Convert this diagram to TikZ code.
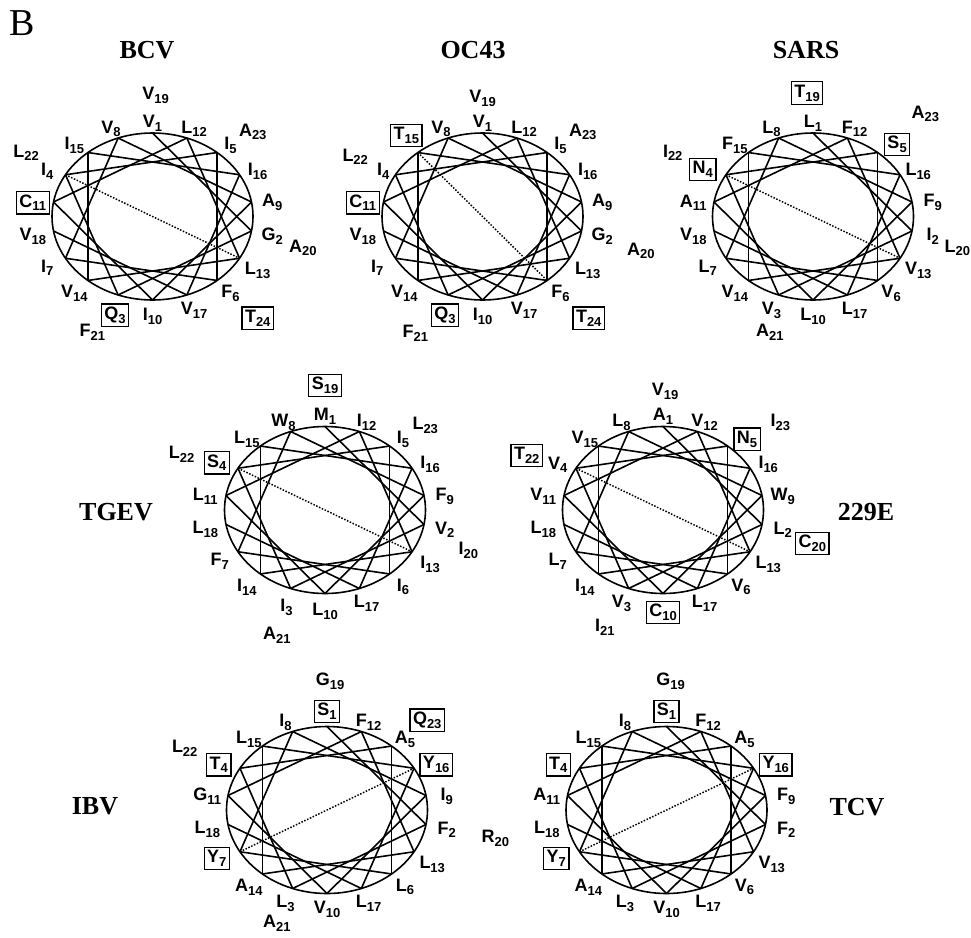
\documentclass[tikz,border=0pt]{standalone}
\usepackage{fontspec}
\setmainfont{Liberation Serif}
\newfontfamily\resfont{Liberation Sans}

% residue letter with its position as subscript
\newcommand\res[2]{#1\raisebox{-3.8pt}{\fontsize{13}{13}\selectfont#2}}

\tikzset{
  rim/.style={line width=1.6pt},
  chord/.style={line width=1.6pt},
  face/.style={line width=1.5pt, dash pattern=on 1.5pt off 1.6pt},
  lab0/.style={inner sep=1pt, font=\resfont\bfseries\fontsize{18}{18}\selectfont},
  lab1/.style={lab0, draw, line width=1.3pt, inner sep=3pt},
  virus/.style={font=\bfseries\fontsize{26}{26}\selectfont}
}

% #1 prefix, #2/#3 centre, #4/#5 dotted axis, #6 residues letter/n/box/dx/dy
\newcommand\wheel[6]{%
  \begin{scope}[shift={(#2,#3)}]
    \draw[rim] (0,0) ellipse [x radius=100.5, y radius=83.5];
    \foreach \i in {1,...,18}
      \coordinate (#1\i) at ({(\i-1)*100-90}:100.5 and 83.5);
    \foreach \i [evaluate=\i as \j using int(\i+1)] in {1,...,17}
      \draw[chord] (#1\i) -- (#1\j);
    \draw[face] (#1#4) -- (#1#5);
    \foreach \resL/\resN/\resB/\nx/\ny in {#6}{
      \pgfmathsetmacro\ang{(\resN-1)*100-90}
      \ifnum\resN<19
        \pgfmathsetmacro\lx{121.5*cos(\ang)+\nx}
        \pgfmathsetmacro\ly{96.5*sin(\ang)+3+\ny}
      \else
        \pgfmathsetmacro\lx{143.5*cos(\ang)+\nx}
        \pgfmathsetmacro\ly{123.5*sin(\ang)+\ny}
      \fi
      \node[lab\resB] (#1l\resN) at (\lx,\ly) {\res{\resL}{\resN}};
    }
  \end{scope}}

\begin{document}
\begin{tikzpicture}[x=1pt, y=-1pt]
  \useasboundingbox (0,0) rectangle (971,937);

  %–– titles ––
  \node[font=\fontsize{38}{38}\selectfont] (panel) at (22.5,23.5) {B};
  \node[virus] (bcv) at (147,50) {BCV};
  \node[virus] (oc) at (473,50) {OC43};
  \node[virus] (sars) at (806,50) {SARS};
  \node[virus] (tgev) at (116,512) {TGEV};
  \node[virus] (hcoe) at (866,512) {229E};
  \node[virus] (ibv) at (95,806) {IBV};
  \node[virus] (tcv) at (857,807) {TCV};

  %–– wheels ––
  \wheel{bcv}{152.5}{216.5}{4}{13}{V/1/0/0/0, G/2/0/0/0, Q/3/1/4/5, I/4/0/0/0,
    I/5/0/0/0, F/6/0/0/0, I/7/0/0/0, V/8/0/0/0, A/9/0/0/0, I/10/0/0/0,
    C/11/1/0/0, L/12/0/0/0, L/13/0/0/3, V/14/0/0/0, I/15/0/0/0, I/16/0/0/0,
    V/17/0/0/0, V/18/0/0/0, V/19/0/3/2, A/20/0/9/10, F/21/0/-11/0,
    L/22/0/-2/-2, A/23/0/8/10, T/24/1/13/7}
  \wheel{oc}{482.5}{216.5}{15}{6}{V/1/0/0/0, G/2/0/0/0, Q/3/1/4/5, I/4/0/6/0,
    I/5/0/0/0, F/6/0/0/0, I/7/0/0/0, V/8/0/0/0, A/9/0/0/0, I/10/0/0/0,
    C/11/1/0/0, L/12/0/0/0, L/13/0/0/3, V/14/0/0/0, T/15/1/2/-10, I/16/0/0/0,
    V/17/0/0/0, V/18/0/0/0, V/19/0/0/5, A/20/0/17/13, F/21/0/-18/1,
    L/22/0/-3/2, A/23/0/8/10, T/24/1/14/7}
  \wheel{sars}{813}{216.5}{4}{13}{L/1/0/0/0, I/2/0/0/0, V/3/0/0/0, N/4/1/-5/-2,
    S/5/1/6/-1, V/6/0/0/0, L/7/0/0/0, L/8/0/0/0, F/9/0/0/0, L/10/0/0/0,
    A/11/0/0/0, F/12/0/0/0, V/13/0/0/3, V/14/0/0/0, F/15/0/0/0, L/16/0/0/0,
    L/17/0/0/0, V/18/0/0/0, T/19/1/-6/0, L/20/0/3/10, A/21/0/6/0,
    I/22/0/-16/-2, A/23/0/20/-8}
  \wheel{tgev}{325}{510}{4}{13}{M/1/0/0/0, V/2/0/0/0, I/3/0/3/4, S/4/1/-3/-2,
    I/5/0/0/0, I/6/0/0/0, F/7/0/0/0, W/8/0/0/0, F/9/0/0/0, L/10/0/0/2,
    L/11/0/0/0, I/12/0/0/0, I/13/0/0/3, I/14/0/0/0, L/15/0/0/0, I/16/0/0/0,
    L/17/0/0/0, L/18/0/0/0, S/19/1/0/-1, I/20/0/2/19, A/21/0/1/9,
    L/22/0/-19/6, L/23/0/8/10}
  \wheel{hcoe}{663}{510}{4}{13}{A/1/0/0/0, L/2/0/0/0, V/3/0/0/0, V/4/0/0/0,
    N/5/1/6/0, V/6/0/0/0, L/7/0/0/0, L/8/0/0/0, W/9/0/0/0, C/10/1/0/3,
    V/11/0/0/0, V/12/0/0/0, L/13/0/0/3, I/14/0/0/0, V/15/0/0/0, I/16/0/0/0,
    L/17/0/0/0, L/18/0/0/0, V/19/0/2/5, C/20/1/8/12, I/21/0/-9/1,
    T/22/1/-12/7, I/23/0/25/7}
  \wheel{ibv}{327}{810}{7}{16}{S/1/1/0/-5, F/2/0/0/0, L/3/0/0/0, T/4/1/-3/0,
    A/5/0/0/0, L/6/0/0/0, Y/7/1/-5/-3, I/8/0/0/0, I/9/0/0/0, V/10/0/0/0,
    G/11/0/0/0, F/12/0/0/0, L/13/0/0/3, A/14/0/0/0, L/15/0/0/0, Y/16/1/4/0,
    L/17/0/0/0, L/18/0/0/0, G/19/0/3/-5, R/20/0/27/7, A/21/0/-1/-3,
    L/22/0/-18/0, Q/23/1/8/5}
  \wheel{tcv}{666.5}{810}{7}{16}{S/1/1/0/-5, F/2/0/0/0, L/3/0/0/0, T/4/1/-3/0,
    A/5/0/0/0, V/6/0/0/0, Y/7/1/-5/-3, I/8/0/0/0, F/9/0/0/0, V/10/0/0/0,
    A/11/0/0/0, F/12/0/0/0, V/13/0/0/3, A/14/0/0/0, L/15/0/0/0, Y/16/1/4/0,
    L/17/0/0/0, L/18/0/0/0, G/19/0/4/-5}
\end{tikzpicture}
\end{document}
